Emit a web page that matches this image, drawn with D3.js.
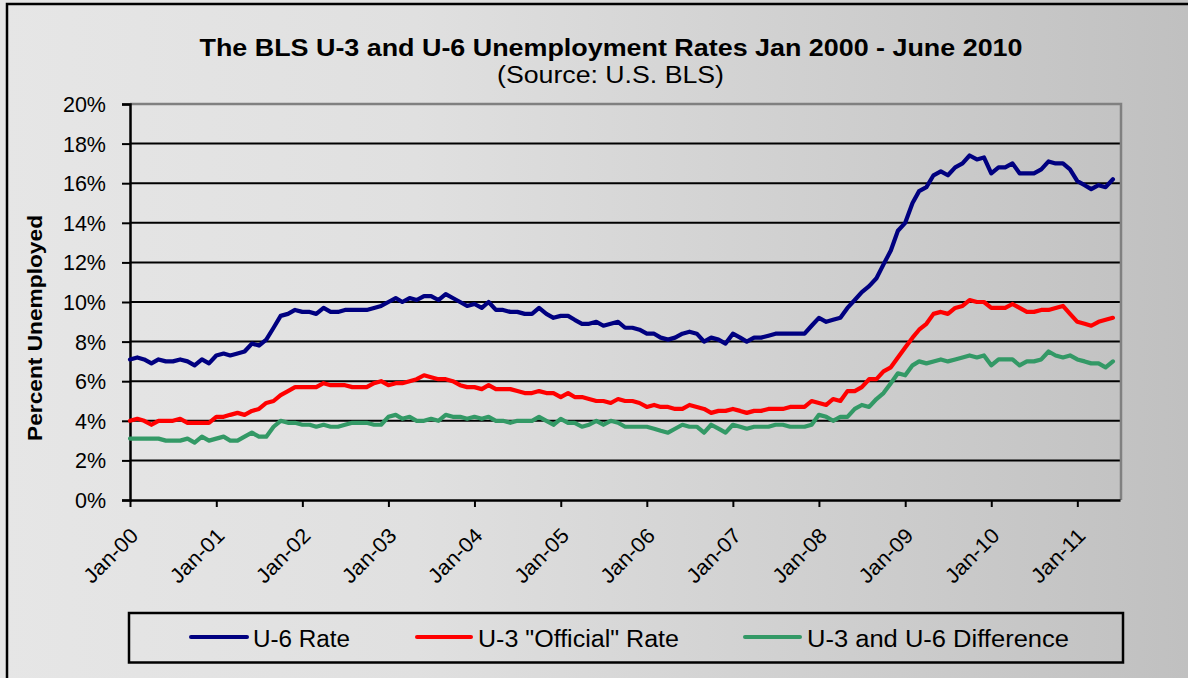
<!DOCTYPE html>
<html>
<head>
<meta charset="utf-8">
<script src="https://cdn.jsdelivr.net/npm/d3@7"></script>
<style>
  html, body { margin: 0; padding: 0; background: #fff; overflow: hidden; }
  svg { display: block; font-family: "Liberation Sans", Arial, sans-serif; }
</style>
</head>
<body>
<svg id="chart" width="1188" height="678"></svg>
<script>
// ---- Data (monthly, Jan 2000 - Jun 2011) ----
const startMonth = "2000-01";
const endMonth = "2011-07"; // exclusive
const u6Rate = [
  7.1, 7.2, 7.1, 6.9, 7.1, 7.0, 7.0, 7.1, 7.0, 6.8, 7.1, 6.9,
  7.3, 7.4, 7.3, 7.4, 7.5, 7.9, 7.8, 8.1, 8.7, 9.3, 9.4, 9.6,
  9.5, 9.5, 9.4, 9.7, 9.5, 9.5, 9.6, 9.6, 9.6, 9.6, 9.7, 9.8,
  10.0, 10.2, 10.0, 10.2, 10.1, 10.3, 10.3, 10.1, 10.4, 10.2, 10.0, 9.8,
  9.9, 9.7, 10.0, 9.6, 9.6, 9.5, 9.5, 9.4, 9.4, 9.7, 9.4, 9.2,
  9.3, 9.3, 9.1, 8.9, 8.9, 9.0, 8.8, 8.9, 9.0, 8.7, 8.7, 8.6,
  8.4, 8.4, 8.2, 8.1, 8.2, 8.4, 8.5, 8.4, 8.0, 8.2, 8.1, 7.9,
  8.4, 8.2, 8.0, 8.2, 8.2, 8.3, 8.4, 8.4, 8.4, 8.4, 8.4, 8.8,
  9.2, 9.0, 9.1, 9.2, 9.7, 10.1, 10.5, 10.8, 11.2, 11.9, 12.6, 13.6,
  14.0, 15.0, 15.6, 15.8, 16.4, 16.6, 16.4, 16.8, 17.0, 17.4, 17.2, 17.3,
  16.5, 16.8, 16.8, 17.0, 16.5, 16.5, 16.5, 16.7, 17.1, 17.0, 17.0, 16.7,
  16.1, 15.9, 15.7, 15.9, 15.8, 16.2
];
const u3Rate = [
  4.0, 4.1, 4.0, 3.8, 4.0, 4.0, 4.0, 4.1, 3.9, 3.9, 3.9, 3.9,
  4.2, 4.2, 4.3, 4.4, 4.3, 4.5, 4.6, 4.9, 5.0, 5.3, 5.5, 5.7,
  5.7, 5.7, 5.7, 5.9, 5.8, 5.8, 5.8, 5.7, 5.7, 5.7, 5.9, 6.0,
  5.8, 5.9, 5.9, 6.0, 6.1, 6.3, 6.2, 6.1, 6.1, 6.0, 5.8, 5.7,
  5.7, 5.6, 5.8, 5.6, 5.6, 5.6, 5.5, 5.4, 5.4, 5.5, 5.4, 5.4,
  5.2, 5.4, 5.2, 5.2, 5.1, 5.0, 5.0, 4.9, 5.1, 5.0, 5.0, 4.9,
  4.7, 4.8, 4.7, 4.7, 4.6, 4.6, 4.8, 4.7, 4.6, 4.4, 4.5, 4.5,
  4.6, 4.5, 4.4, 4.5, 4.5, 4.6, 4.6, 4.6, 4.7, 4.7, 4.7, 5.0,
  4.9, 4.8, 5.1, 5.0, 5.5, 5.5, 5.7, 6.1, 6.1, 6.5, 6.7, 7.2,
  7.7, 8.2, 8.6, 8.9, 9.4, 9.5, 9.4, 9.7, 9.8, 10.1, 10.0, 10.0,
  9.7, 9.7, 9.7, 9.9, 9.7, 9.5, 9.5, 9.6, 9.6, 9.7, 9.8, 9.4,
  9.0, 8.9, 8.8, 9.0, 9.1, 9.2
];
const diffRate = [
  3.1, 3.1, 3.1, 3.1, 3.1, 3.0, 3.0, 3.0, 3.1, 2.9, 3.2, 3.0,
  3.1, 3.2, 3.0, 3.0, 3.2, 3.4, 3.2, 3.2, 3.7, 4.0, 3.9, 3.9,
  3.8, 3.8, 3.7, 3.8, 3.7, 3.7, 3.8, 3.9, 3.9, 3.9, 3.8, 3.8,
  4.2, 4.3, 4.1, 4.2, 4.0, 4.0, 4.1, 4.0, 4.3, 4.2, 4.2, 4.1,
  4.2, 4.1, 4.2, 4.0, 4.0, 3.9, 4.0, 4.0, 4.0, 4.2, 4.0, 3.8,
  4.1, 3.9, 3.9, 3.7, 3.8, 4.0, 3.8, 4.0, 3.9, 3.7, 3.7, 3.7,
  3.7, 3.6, 3.5, 3.4, 3.6, 3.8, 3.7, 3.7, 3.4, 3.8, 3.6, 3.4,
  3.8, 3.7, 3.6, 3.7, 3.7, 3.7, 3.8, 3.8, 3.7, 3.7, 3.7, 3.8,
  4.3, 4.2, 4.0, 4.2, 4.2, 4.6, 4.8, 4.7, 5.1, 5.4, 5.9, 6.4,
  6.3, 6.8, 7.0, 6.9, 7.0, 7.1, 7.0, 7.1, 7.2, 7.3, 7.2, 7.3,
  6.8, 7.1, 7.1, 7.1, 6.8, 7.0, 7.0, 7.1, 7.5, 7.3, 7.2, 7.3,
  7.1, 7.0, 6.9, 6.9, 6.7, 7.0
];
const seriesNames = ["U-6 Rate", "U-3 \"Official\" Rate", "U-3 and U-6 Difference"];
const xTickLabels = ["Jan-00","Jan-01","Jan-02","Jan-03","Jan-04","Jan-05","Jan-06","Jan-07","Jan-08","Jan-09","Jan-10","Jan-11"];
const yTickValues = [0, 2, 4, 6, 8, 10, 12, 14, 16, 18, 20];
const titleText = "The BLS U-3  and U-6 Unemployment Rates Jan 2000 - June 2010";
const subtitleText = "(Source: U.S. BLS)";
const yAxisTitle = "Percent Unemployed";

// ---- Setup ----
const W = 1188, H = 678;
const svg = d3.select("#chart");
const parseM = d3.timeParse("%Y-%m");
const months = d3.timeMonth.range(parseM(startMonth), parseM(endMonth));
const tickDates = xTickLabels.map(s => d3.timeParse("%b-%y")(s));

const plot = { left: 130, right: 1120, top: 104, bottom: 500 };
const x = d3.scaleTime().domain([parseM(startMonth), parseM(endMonth)]).range([plot.left, plot.right]);
const y = d3.scaleLinear().domain([0, 20]).range([plot.bottom, plot.top]);

// background gradient (user space so overlays match exactly)
const defs = svg.append("defs");
const grad = defs.append("linearGradient").attr("id", "bg").attr("gradientUnits", "userSpaceOnUse")
  .attr("x1", 0).attr("x2", W).attr("y1", 0).attr("y2", 0);
grad.append("stop").attr("offset", "0%").attr("stop-color", "#e6e6e6");
grad.append("stop").attr("offset", "35%").attr("stop-color", "#e0e0e0");
grad.append("stop").attr("offset", "100%").attr("stop-color", "#c0c0c0");
svg.append("rect").attr("width", W).attr("height", H).attr("fill", "url(#bg)");

// title
svg.append("text").attr("x", 611).attr("y", 56).attr("text-anchor", "middle")
  .attr("font-size", 24).attr("font-weight", "bold").attr("fill", "#000")
  .attr("textLength", 823).attr("lengthAdjust", "spacingAndGlyphs").text(titleText);
svg.append("text").attr("x", 610.5).attr("y", 83).attr("text-anchor", "middle")
  .attr("font-size", 23).attr("fill", "#000")
  .attr("textLength", 227).attr("lengthAdjust", "spacingAndGlyphs").text(subtitleText);

// gridlines
const grid = svg.append("g");
grid.selectAll("line").data(yTickValues.filter(v => v > 0 && v < 20)).join("line")
  .attr("x1", plot.left).attr("x2", plot.right)
  .attr("y1", d => y(d)).attr("y2", d => y(d))
  .attr("stroke", "#000").attr("stroke-width", 2);
// plot border top & right (gray)
svg.append("path")
  .attr("d", `M${plot.left},${y(20)}H${plot.right + 1}V${plot.bottom}`)
  .attr("fill", "none").attr("stroke", "#808080").attr("stroke-width", 2.5);

// y axis
const yAxis = d3.axisLeft(y).tickValues(yTickValues).tickFormat(d => d + "%").tickSize(8).tickPadding(0);
const gy = svg.append("g").attr("transform", `translate(${plot.left},0)`).call(yAxis);
gy.select(".domain").attr("stroke", "#000").attr("stroke-width", 2.5);
gy.selectAll(".tick line").attr("stroke", "#000").attr("stroke-width", 2);
gy.selectAll(".tick text").attr("font-size", 21.5).attr("fill", "#000")
  .attr("x", -24).attr("dy", "0.35em").attr("text-anchor", "end");

// x axis
const xAxis = d3.axisBottom(x).tickValues(tickDates).tickFormat((d, i) => xTickLabels[i]).tickSize(7).tickSizeOuter(0);
const gx = svg.append("g").attr("transform", `translate(0,${plot.bottom})`).call(xAxis);
gx.select(".domain").attr("stroke", "#000").attr("stroke-width", 2.5);
gx.selectAll(".tick line").attr("stroke", "#000").attr("stroke-width", 2);
gx.selectAll(".tick text").attr("font-size", 21).attr("fill", "#000")
  .attr("text-anchor", "end").attr("y", 0).attr("dy", 0)
  .attr("textLength", 67).attr("lengthAdjust", "spacingAndGlyphs")
  .attr("transform", "translate(9,37) rotate(-45)");

// y axis title
svg.append("text").attr("transform", "translate(42,328) rotate(-90)")
  .attr("text-anchor", "middle").attr("font-size", 20).attr("font-weight", "bold")
  .attr("fill", "#000").attr("textLength", 226).attr("lengthAdjust", "spacingAndGlyphs")
  .text(yAxisTitle);

// lines
const colors = ["#000080", "#ff0000", "#339966"];
const seriesData = [u6Rate, u3Rate, diffRate];
const line = d3.line().x((d, i) => x(months[i])).y(d => y(d));
svg.append("g").selectAll("path").data(seriesData).join("path")
  .attr("d", d => line(d))
  .attr("fill", "none")
  .attr("stroke", (d, i) => colors[i])
  .attr("stroke-width", 4.2)
  .attr("stroke-linejoin", "round")
  .attr("stroke-linecap", "round");

// legend
const leg = svg.append("g");
leg.append("rect").attr("x", 129).attr("y", 613).attr("width", 994).attr("height", 49.5)
  .attr("fill", "none").attr("stroke", "#000").attr("stroke-width", 2.5);
const legItems = [
  { lx1: 191, lx2: 247, tx: 253, tw: 97 },
  { lx1: 417, lx2: 471, tx: 478, tw: 201 },
  { lx1: 745, lx2: 800, tx: 807, tw: 262 }
];
legItems.forEach((it, i) => {
  leg.append("line").attr("x1", it.lx1).attr("x2", it.lx2).attr("y1", 637).attr("y2", 637)
    .attr("stroke", colors[i]).attr("stroke-width", 4).attr("stroke-linecap", "round");
  leg.append("text").attr("x", it.tx).attr("y", 647).attr("font-size", 23).attr("fill", "#000")
    .attr("textLength", it.tw).attr("lengthAdjust", "spacingAndGlyphs").text(seriesNames[i]);
});

// right margin strip (keeps the outer edge clean) and outer frame (left & top only)
svg.append("rect").attr("x", 1140).attr("y", 0).attr("width", W - 1140).attr("height", H)
  .attr("fill", "url(#bg)");
svg.append("path").attr("d", `M7,${H + 5}V4H${W + 5}`)
  .attr("fill", "none").attr("stroke", "#000").attr("stroke-width", 2.5);
</script>
</body>
</html>
